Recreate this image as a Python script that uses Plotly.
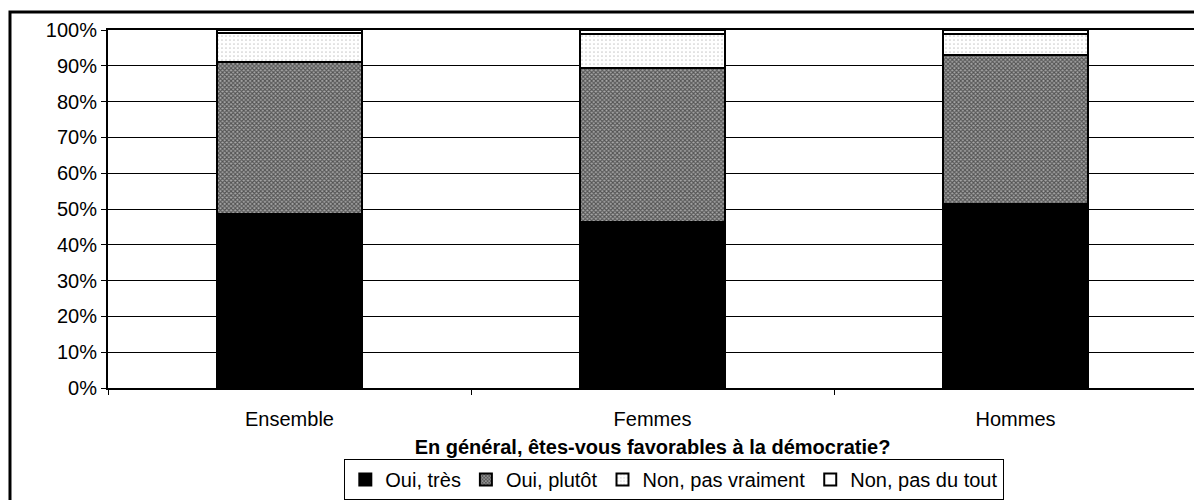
import plotly.graph_objects as go

categories = ["Ensemble", "Femmes", "Hommes"]
oui_tres = [48.6, 46.4, 51.4]
oui_plutot = [42.5, 43.0, 41.6]
non_pas_vraiment = [8.0, 9.4, 5.8]
non_pas_du_tout = [0.9, 1.2, 1.2]
y_ticks = [0, 10, 20, 30, 40, 50, 60, 70, 80, 90, 100]
y_tick_labels = [f"{v}%" for v in y_ticks]

FONT = "Liberation Sans, Arial, sans-serif"
line = dict(color="black", width=2)

fig = go.Figure()
fig.add_bar(x=categories, y=oui_tres, name="Oui, très",
            marker=dict(color="black", line=line))
fig.add_bar(x=categories, y=oui_plutot, name="Oui, plutôt",
            marker=dict(color="white", line=line,
                        pattern=dict(shape="x", size=3, solidity=0.6,
                                     fgcolor="black", bgcolor="#a8a8a8")))
fig.add_bar(x=categories, y=non_pas_vraiment, name="Non, pas vraiment",
            marker=dict(color="white", line=line,
                        pattern=dict(shape=".", size=4, solidity=0.15,
                                     fgcolor="#999999", bgcolor="white")))
fig.add_bar(x=categories, y=non_pas_du_tout, name="Non, pas du tout",
            marker=dict(color="white", line=line))

# the page body has an 8px margin, so the figure is sized/offset to compensate
fig.update_layout(
    barmode="stack",
    bargap=0.6,
    width=1194, height=492,
    margin=dict(l=100, r=5, t=22, b=112, autoexpand=False),
    paper_bgcolor="white", plot_bgcolor="white",
    font=dict(family=FONT, size=20, color="black"),
    showlegend=True,
    legend=dict(orientation="h", x=0.217, xanchor="left", y=-0.198, yanchor="top",
                bordercolor="black", borderwidth=1, bgcolor="white",
                traceorder="normal", font=dict(size=20), itemwidth=30,
                tracegroupgap=0),
    xaxis=dict(showline=True, linecolor="black", linewidth=2, mirror=True,
               ticks="outside", tickson="boundaries", ticklen=5, tickcolor="black",
               ticklabelstandoff=12, automargin=False,
               title=dict(text="<b>En général, êtes-vous favorables à la démocratie?</b>",
                          font=dict(size=20), standoff=11)),
    yaxis=dict(range=[0, 100], tickvals=y_ticks, ticktext=y_tick_labels,
               showline=True, linecolor="black", linewidth=2, mirror=True,
               ticks="outside", ticklen=5, tickcolor="black",
               showgrid=True, gridcolor="black", gridwidth=1,
               zeroline=False, automargin=False),
    shapes=[dict(type="rect", xref="paper", yref="paper",
                 x0=-0.09, x1=1.02, y0=-0.35, y1=1.0503,
                 line=dict(color="black", width=3), fillcolor="rgba(0,0,0,0)",
                 layer="below")],
)

fig.write_html("out.html")
